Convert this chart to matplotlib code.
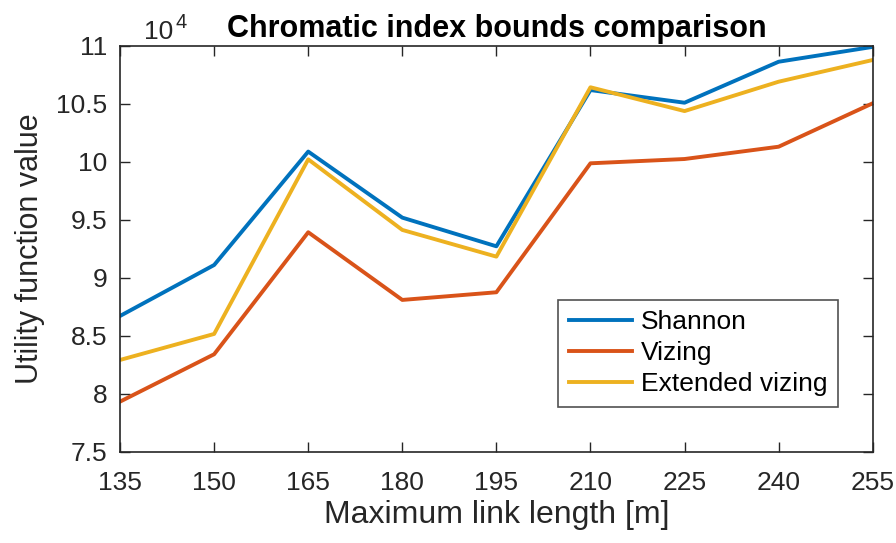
import matplotlib.pyplot as plt
from matplotlib.ticker import FuncFormatter

plt.rcParams['font.family'] = ['Liberation Sans', 'DejaVu Sans']

# Data
link_length = [135, 150, 165, 180, 195, 210, 225, 240, 255]
shannon = [86720, 91110, 100880, 95190, 92720, 106180, 105090, 108620, 109900]
vizing = [79340, 83420, 93930, 88100, 88760, 99870, 100240, 101300, 105040]
ext_vizing = [82930, 85170, 100210, 94130, 91830, 106420, 104370, 106900, 108770]

c_blue = '#0072BD'
c_red = '#D95319'
c_yellow = '#EDB120'
dark = '#262626'

fig = plt.figure(figsize=(8.96, 5.43), dpi=100, facecolor='white')
ax = fig.add_axes([0.134, 0.1676, 0.840, 0.7482])

lw = 2.8
ax.plot(link_length, shannon, color=c_blue, lw=lw, label='Shannon')
ax.plot(link_length, vizing, color=c_red, lw=lw, label='Vizing')
ax.plot(link_length, ext_vizing, color=c_yellow, lw=lw, label='Extended vizing')

ax.set_xlim(135, 255)
ax.set_ylim(75000, 110000)
ax.set_xticks(link_length)
ax.set_yticks([75000 + 5000 * i for i in range(8)])
ax.yaxis.set_major_formatter(FuncFormatter(lambda v, p: f'{v / 1e4:g}'))

ax.tick_params(direction='in', length=7, width=1, top=True, right=True,
               labelsize=19, colors=dark)
ax.tick_params(axis='x', pad=14)
ax.tick_params(axis='y', pad=9)
for s in ax.spines.values():
    s.set_color(dark)
    s.set_linewidth(1.2)

ax.set_xlabel('Maximum link length [m]', fontsize=23, color=dark, labelpad=3)
ax.set_ylabel('Utility function value', fontsize=22, color=dark, labelpad=8)
ax.set_title('Chromatic index bounds comparison', fontsize=22, fontweight='bold',
             pad=6)
# exponent label, MATLAB style
ax.text(0.032, 1.0165, '10', transform=ax.transAxes, fontsize=19,
        color=dark, ha='left', va='baseline')
ax.text(0.074, 1.0436, '4', transform=ax.transAxes, fontsize=14.5,
        color=dark, ha='left', va='baseline')

leg = ax.legend(loc='lower left', bbox_to_anchor=(0.582, 0.111), fontsize=19,
                frameon=True, fancybox=False, handlelength=2.4,
                borderpad=0.4, labelspacing=0.27, handletextpad=0.35,
                borderaxespad=0)
leg.get_frame().set_edgecolor(dark)
leg.get_frame().set_linewidth(1.2)

plt.savefig('out.png', dpi=100, facecolor='white')
